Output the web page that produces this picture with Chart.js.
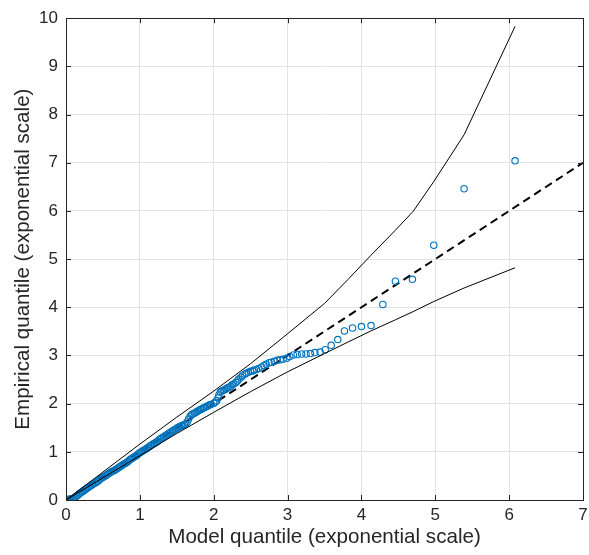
<!DOCTYPE html>
<html>
<head>
<meta charset="utf-8">
<script src="https://cdn.jsdelivr.net/npm/chart.js@4/dist/chart.umd.min.js"></script>
<style>
  html, body { margin: 0; padding: 0; background: #ffffff; }
  #wrap { width: 589px; height: 555px; }
</style>
</head>
<body>
<div id="wrap"><canvas id="qq" width="589" height="555"></canvas></div>
<script>
// Model (exponential) quantiles of the sample, in ascending order
const modelQ = [
  0.00, 0.01, 0.02, 0.03, 0.04, 0.05, 0.06, 0.08, 0.10, 0.12, 0.14, 0.16, 0.18,
  0.20, 0.22, 0.24, 0.26, 0.28, 0.30, 0.32, 0.34, 0.36, 0.38, 0.40, 0.42, 0.44,
  0.46, 0.48, 0.50, 0.52, 0.54, 0.56, 0.58, 0.60, 0.62, 0.64, 0.66, 0.68, 0.70,
  0.72, 0.74, 0.76, 0.78, 0.80, 0.82, 0.84, 0.86, 0.88, 0.90, 0.92, 0.94, 0.96,
  0.98, 1.00, 1.02, 1.04, 1.06, 1.08, 1.10, 1.12, 1.14, 1.16, 1.18, 1.20, 1.22,
  1.24, 1.26, 1.28, 1.30, 1.32, 1.34, 1.36, 1.38, 1.40, 1.42, 1.44, 1.46, 1.48,
  1.50, 1.52, 1.54, 1.56, 1.58, 1.60, 1.62, 1.64, 1.66, 1.68, 1.70, 1.72, 1.74,
  1.76, 1.78, 1.80, 1.82, 1.84, 1.86, 1.88, 1.90, 1.92, 1.94, 1.96,
  2.00, 2.02, 2.04, 2.06, 2.07, 2.09, 2.11, 2.13, 2.15, 2.17, 2.19, 2.21, 2.23,
  2.25, 2.27, 2.30, 2.32, 2.34, 2.37, 2.39, 2.42, 2.44, 2.47, 2.50, 2.53, 2.55,
  2.58, 2.61, 2.65, 2.68, 2.71, 2.75, 2.78, 2.82, 2.86, 2.90, 2.94, 2.99, 3.03,
  3.08, 3.13, 3.19, 3.25, 3.31, 3.37, 3.44, 3.51, 3.59, 3.68, 3.77, 3.88, 4.00,
  4.13, 4.29, 4.46, 4.69, 4.98, 5.39, 6.08
];

// Empirical quantiles (sorted observations, exponential scale)
const empiricalQ = [
  0.00, 0.00, 0.01, 0.01, 0.01, 0.01, 0.02, 0.02, 0.03, 0.05, 0.08, 0.10, 0.13,
  0.15, 0.17, 0.19, 0.22, 0.24, 0.26, 0.28, 0.30, 0.32, 0.34, 0.36, 0.38, 0.40,
  0.43, 0.45, 0.47, 0.49, 0.51, 0.53, 0.55, 0.57, 0.59, 0.60, 0.62, 0.64, 0.66,
  0.68, 0.70, 0.72, 0.74, 0.76, 0.78, 0.80, 0.83, 0.85, 0.87, 0.89, 0.91, 0.93,
  0.96, 0.98, 1.00, 1.02, 1.04, 1.06, 1.08, 1.10, 1.12, 1.14, 1.16, 1.18, 1.20,
  1.22, 1.25, 1.27, 1.29, 1.31, 1.33, 1.35, 1.37, 1.39, 1.41, 1.43, 1.45, 1.47,
  1.49, 1.51, 1.52, 1.54, 1.55, 1.56, 1.58, 1.62, 1.68, 1.74, 1.77, 1.79, 1.80,
  1.82, 1.84, 1.86, 1.88, 1.89, 1.91, 1.92, 1.94, 1.95, 1.97, 1.98,
  2.01, 2.03, 2.06, 2.12, 2.18, 2.24, 2.26, 2.28, 2.29, 2.31, 2.33, 2.34, 2.36,
  2.39, 2.41, 2.44, 2.47, 2.51, 2.55, 2.58, 2.61, 2.63, 2.65, 2.67, 2.68, 2.70,
  2.71, 2.73, 2.76, 2.79, 2.82, 2.85, 2.86, 2.88, 2.90, 2.91, 2.92, 2.94, 2.98,
  3.01, 3.02, 3.03, 3.03, 3.04, 3.06, 3.07, 3.12, 3.21, 3.33, 3.51, 3.57, 3.60,
  3.62, 4.06, 4.54, 4.58, 5.29, 6.46, 7.04
];

// Pointwise confidence band around the reference line
const boundQ     = [0, 0.50, 1.00, 1.50, 2.00, 2.50, 3.00, 3.50, 3.82, 4.13, 4.46, 4.70, 4.98, 5.39, 6.08];
const upperBound = [0, 0.58, 1.16, 1.72, 2.26, 2.83, 3.45, 4.08, 4.58, 5.08, 5.60, 5.99, 6.61, 7.58, 9.83];
const lowerBound = [0, 0.46, 0.92, 1.38, 1.82, 2.25, 2.66, 3.04, 3.28, 3.51, 3.74, 3.91, 4.12, 4.40, 4.82];

// 45-degree reference line y = x
const refX = [0, 7];
const refY = [0, 7];

// Axis ticks
const xTicks = [0, 1, 2, 3, 4, 5, 6, 7];
const yTicks = [0, 1, 2, 3, 4, 5, 6, 7, 8, 9, 10];

const AXIS_COLOR = '#262626';
const FONT = '"Liberation Sans", Helvetica, Arial, sans-serif';

const toPoints = (xs, ys) => xs.map((v, i) => ({ x: v, y: ys[i] }));

// Box around the axes with inward tick marks on all four sides
const axisBox = {
  id: 'axisBox',
  afterDatasetsDraw(chart) {
    const { ctx, chartArea: a, scales } = chart;
    const len = 5;
    ctx.save();
    ctx.strokeStyle = AXIS_COLOR;
    ctx.lineWidth = 1;
    ctx.beginPath();
    xTicks.forEach(v => {
      const px = Math.round(scales.x.getPixelForValue(v)) + 0.5;
      ctx.moveTo(px, a.bottom); ctx.lineTo(px, a.bottom - len);
      ctx.moveTo(px, a.top);    ctx.lineTo(px, a.top + len);
    });
    yTicks.forEach(v => {
      const py = Math.round(scales.y.getPixelForValue(v)) + 0.5;
      ctx.moveTo(a.left, py);  ctx.lineTo(a.left + len, py);
      ctx.moveTo(a.right, py); ctx.lineTo(a.right - len, py);
    });
    ctx.stroke();
    ctx.strokeRect(Math.round(a.left) + 0.5, Math.round(a.top) + 0.5,
                   Math.round(a.right - a.left), Math.round(a.bottom - a.top));
    ctx.restore();
  }
};

new Chart(document.getElementById('qq'), {
  type: 'scatter',
  data: {
    datasets: [
      {
        label: 'Reference',
        data: toPoints(refX, refY),
        showLine: true,
        borderColor: '#000000',
        borderWidth: 2,
        borderDash: [8, 5],
        pointRadius: 0,
        order: 3
      },
      {
        label: 'Sample',
        data: toPoints(modelQ, empiricalQ),
        pointStyle: 'circle',
        pointRadius: 3.2,
        pointBorderWidth: 1.1,
        borderColor: '#0072BD',
        backgroundColor: 'rgba(0,0,0,0)',
        order: 2
      },
      {
        label: 'Upper bound',
        data: toPoints(boundQ, upperBound),
        showLine: true,
        borderColor: '#000000',
        borderWidth: 1,
        pointRadius: 0,
        order: 1
      },
      {
        label: 'Lower bound',
        data: toPoints(boundQ, lowerBound),
        showLine: true,
        borderColor: '#000000',
        borderWidth: 1,
        pointRadius: 0,
        order: 1
      }
    ]
  },
  options: {
    responsive: false,
    animation: false,
    devicePixelRatio: 1,
    events: [],
    layout: { padding: { top: 16, right: 0, left: 0, bottom: 0 } },
    plugins: {
      legend: { display: false },
      tooltip: { enabled: false }
    },
    scales: {
      x: {
        type: 'linear',
        min: 0,
        max: 7,
        afterFit: s => { s.height = 55; s.paddingRight = 6; },
        afterBuildTicks: s => { s.ticks = xTicks.map(v => ({ value: v })); },
        ticks: { color: AXIS_COLOR, font: { family: FONT, size: 17 }, padding: 5, maxRotation: 0 },
        grid: { color: '#e3e3e3', lineWidth: 1, drawTicks: false },
        border: { display: false },
        title: {
          display: true,
          text: 'Model quantile (exponential scale)',
          color: AXIS_COLOR,
          font: { family: FONT, size: 20.6 },
          padding: { top: 0, bottom: 5 }
        }
      },
      y: {
        type: 'linear',
        min: 0,
        max: 10,
        afterFit: s => { s.width = 66; },
        afterBuildTicks: s => { s.ticks = yTicks.map(v => ({ value: v })); },
        ticks: { color: AXIS_COLOR, font: { family: FONT, size: 17 }, padding: 8 },
        grid: { color: '#e3e3e3', lineWidth: 1, drawTicks: false },
        border: { display: false },
        title: {
          display: true,
          text: 'Empirical quantile (exponential scale)',
          color: AXIS_COLOR,
          font: { family: FONT, size: 20.6 },
          padding: { top: 11, bottom: 0 }
        }
      }
    }
  },
  plugins: [axisBox]
});
</script>
</body>
</html>
